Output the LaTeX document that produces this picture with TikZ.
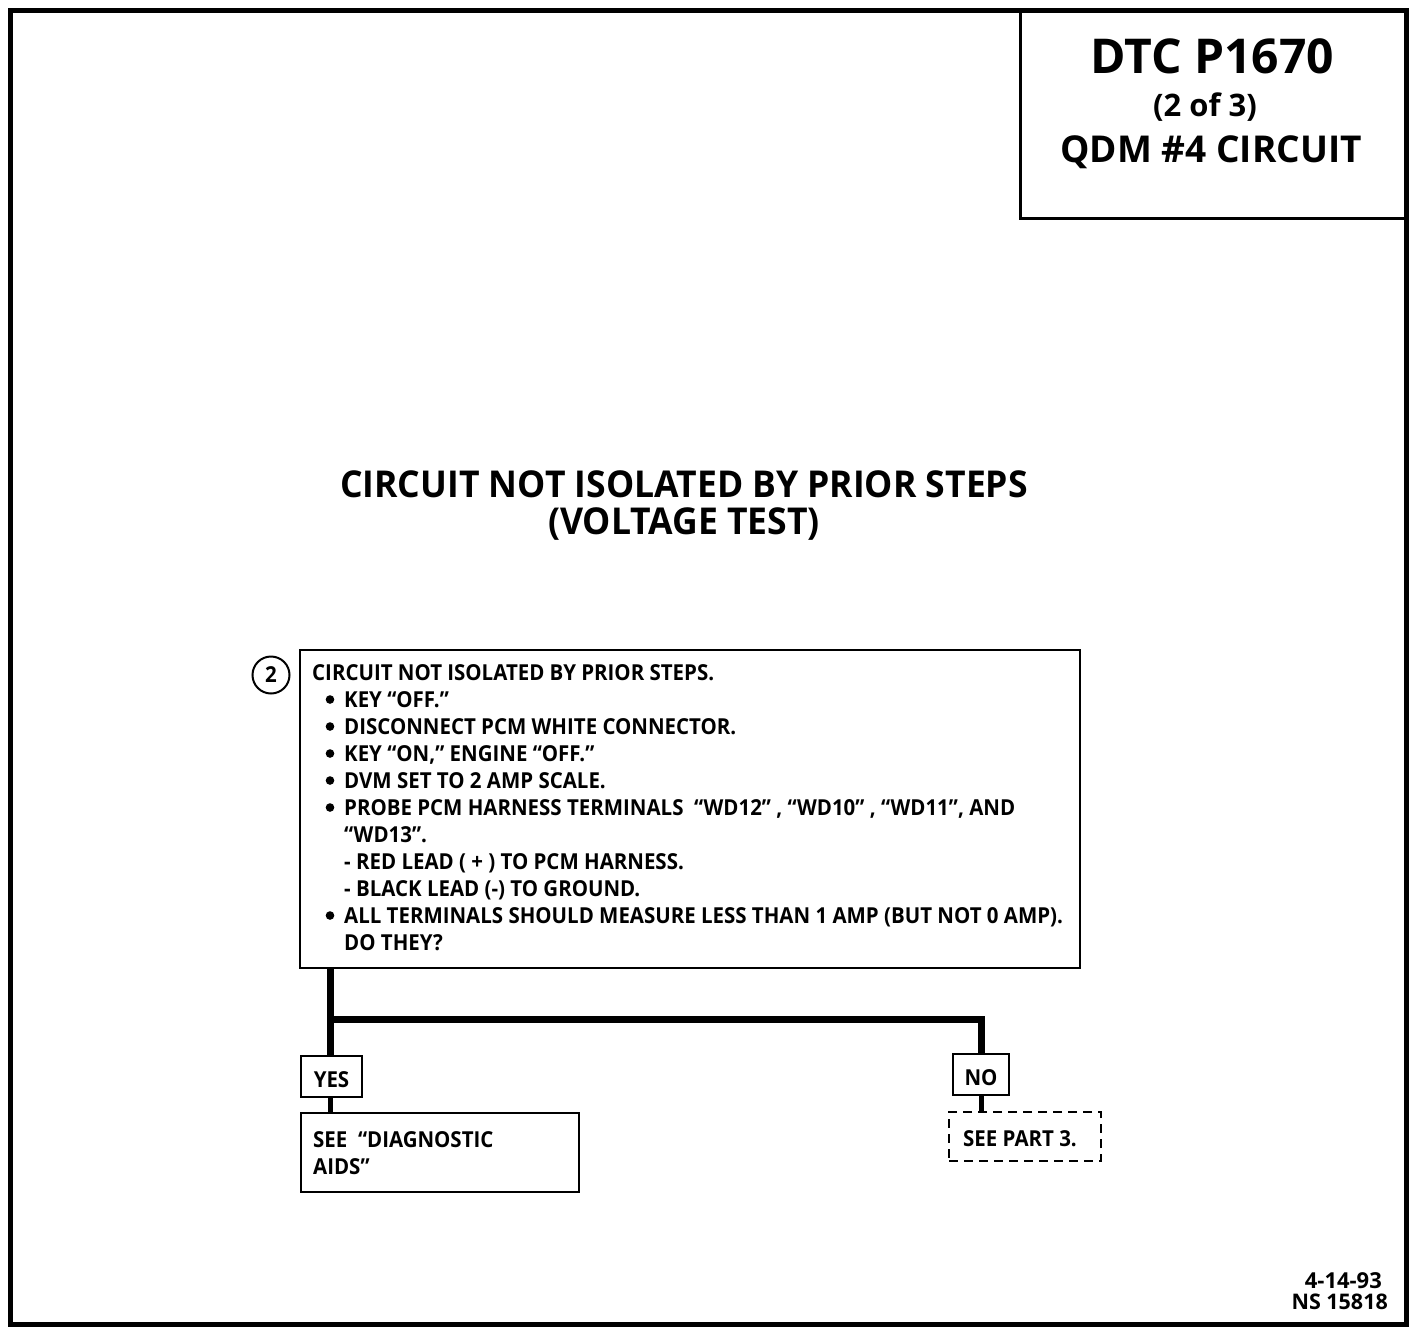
\documentclass[tikz,border=0pt]{standalone}
\usepackage{fontspec}
\setmainfont{Open Sans}[Ligatures=TeX]
\newfontfamily\condfont{Open Sans}[FakeStretch=0.93,Ligatures=TeX]
\newfontfamily\headfont{Open Sans}[FakeStretch=0.96,Ligatures=TeX]
\usetikzlibrary{fit}
\newcommand\ind{\hspace*{32pt}}
\begin{document}
\begin{tikzpicture}[x=1pt,y=-1pt,
  outline/.style={draw, line width=#1, inner sep=0pt},
  outline/.default=2.5pt,
  conn/.style={line width=7pt},
  conn2/.style={line width=5pt},
  bulletdot/.style={fill=black},
  body/.style={font=\condfont\bfseries\fontsize{22}{27}\selectfont, inner sep=0pt}]
\useasboundingbox (0,0) rectangle (1424,1342);
\fill[white] (0,0) rectangle (1424,1342);
% outer frame and title block
\node[outline=5pt, fit={(10,10.5) (1406,1324)}] (frame) {};
\node[outline=3pt, fit={(1020,10.5) (1406,218)}] (titlebox) {};
\node[anchor=base, font=\bfseries\fontsize{48}{50}\selectfont, inner sep=0pt] (t1) at (1212,73) {DTC P1670};
\node[anchor=base, font=\bfseries\fontsize{31}{33}\selectfont, inner sep=0pt] (t2) at (1205,116) {(2 of 3)};
\node[anchor=base, font=\bfseries\fontsize{37}{40}\selectfont, inner sep=0pt] (t3) at (1211,162) {QDM \#4 CIRCUIT};
% heading
\node[anchor=base, font=\headfont\bfseries\fontsize{37}{39}\selectfont, inner sep=0pt] (h1) at (684,497) {CIRCUIT NOT ISOLATED BY PRIOR STEPS};
\node[anchor=base, font=\headfont\bfseries\fontsize{37}{39}\selectfont, inner sep=0pt] (h2) at (684,534) {(VOLTAGE TEST)};
% step 2 box
\node[outline, fit={(300,650) (1080,968)}] (main) {};
\node[draw, circle, line width=2pt, minimum size=37pt, inner sep=0pt, font=\condfont\bfseries\fontsize{22}{24}\selectfont] (num) at (271,675) {2};
\node[body, anchor=north west, align=left] (maintext) at (312,664) {%
CIRCUIT NOT ISOLATED BY PRIOR STEPS.\\
\ind KEY ``OFF.''\\
\ind DISCONNECT PCM WHITE CONNECTOR.\\
\ind KEY ``ON,'' ENGINE ``OFF.''\\
\ind DVM SET TO 2 AMP SCALE.\\
\ind PROBE PCM HARNESS TERMINALS \ ``WD12'' , ``WD10'' , ``WD11'', AND\\
\ind ``WD13''.\\
\ind - RED LEAD ( + ) TO PCM HARNESS.\\
\ind - BLACK LEAD (-) TO GROUND.\\
\ind ALL TERMINALS SHOULD MEASURE LESS THAN 1 AMP (BUT NOT 0 AMP).\\
\ind DO THEY?};
\foreach \k in {1,2,3,4,5,9}
  \fill[bulletdot] (330,{680+27*\k-7.5}) circle (4.3);
% answers
\node[outline, fit={(301,1056) (362,1097)}] (yes) {};
\node[body, anchor=base] (yest) at (yes.center |- 0,1087) {YES};
\node[outline, fit={(953,1054) (1009,1095)}] (no) {};
\node[body, anchor=base] (not) at (no.center |- 0,1085) {NO};
\node[outline, fit={(301,1113) (579,1192)}] (see) {};
\node[body, anchor=north west, align=left] (seet) at (313,1131) {SEE \ ``DIAGNOSTIC\\AIDS''};
\node[draw, dashed, dash pattern=on 9pt off 6pt, line width=2.2pt, inner sep=0pt, fit={(949,1112) (1101,1161)}] (part) {};
\node[body, anchor=base west] (partt) at (963,1146) {SEE PART 3.};
% connectors
\coordinate (br) at (330,1019);
\draw[conn] (yes.north -| br) -- (br |- main.south);
\draw[conn, line join=miter] (br) -| (no.north);
\draw[conn2] (yes.south -| br) -- (see.north -| br);
\draw[conn2] (no.south) -- (no.south |- part.north);
% footer
\node[anchor=base east, font=\bfseries\fontsize{22}{23}\selectfont, inner sep=0pt] (d1) at (1382,1288) {4-14-93};
\node[anchor=base east, font=\bfseries\fontsize{21.5}{23}\selectfont, inner sep=0pt] (d2) at (1388,1309) {NS 15818};
\end{tikzpicture}
\end{document}
